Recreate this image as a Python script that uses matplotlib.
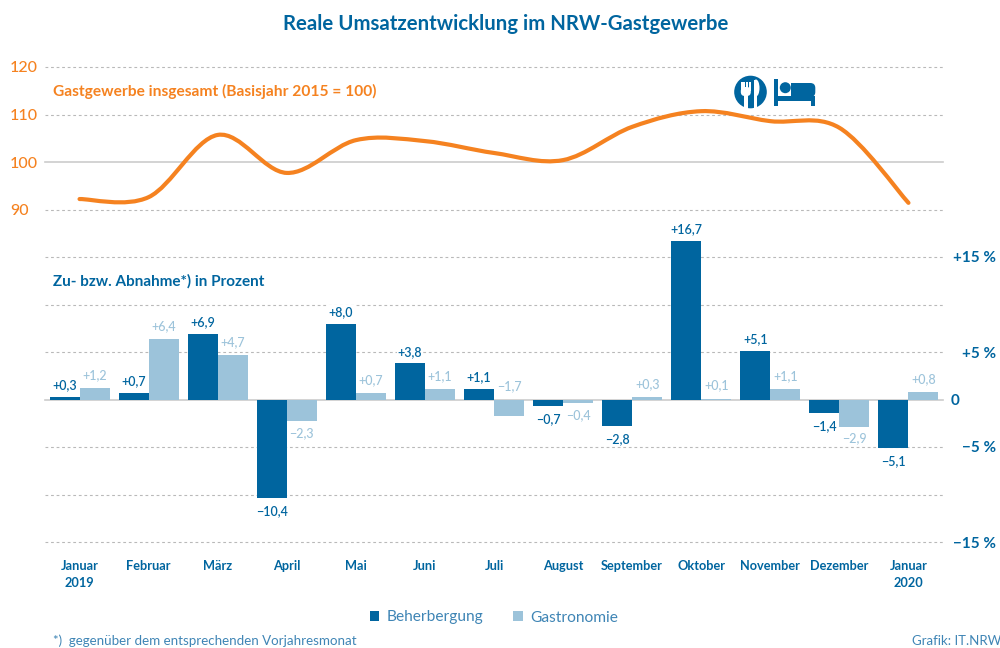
import matplotlib
matplotlib.use('Agg')
import matplotlib.pyplot as plt
import numpy as np
from matplotlib.path import Path
from matplotlib.patches import PathPatch, Circle, Rectangle, FancyBboxPatch, Ellipse

months = ['Januar\n2019', 'Februar', 'März', 'April', 'Mai', 'Juni', 'Juli', 'August',
          'September', 'Oktober', 'November', 'Dezember', 'Januar\n2020']
beherbergung = [0.3, 0.7, 6.9, -10.4, 8.0, 3.8, 1.1, -0.7, -2.8, 16.7, 5.1, -1.4, -5.1]
gastronomie = [1.2, 6.4, 4.7, -2.3, 0.7, 1.1, -1.7, -0.4, 0.3, 0.1, 1.1, -2.9, 0.8]
gesamt = [92.2, 92.6, 105.7, 97.7, 104.6, 104.4, 101.9, 100.4, 107.4, 110.7, 108.6, 107.2, 91.4]

pct_ticks = [15, 5, 0, -5, -15]
pct_labels = ['+15 %', '+5 %', '0', '\u22125 %', '\u221215 %']
index_ticks = [90, 100, 110, 120]

BLUE = '#00659f'
LIGHT = '#9cc3da'
ORANGE = '#f58220'
GRID = '#b9b9b9'
SOFT = '#3f85b5'

plt.rcParams['font.family'] = ['Lato', 'DejaVu Sans']


def fmt(v):
    # deutsche Schreibweise mit echtem Minuszeichen
    s = '%.1f' % abs(v)
    return ('+' if v >= 0 else '\u2212') + s.replace('.', ',')


def smooth_path(x, y, k=1 / 6):
    # Catmull-Rom als Bezier, damit die Linie durch die Monatswerte laeuft
    xs = [x[0]] + list(x) + [x[-1]]
    ys = [y[0]] + list(y) + [y[-1]]
    verts = [(x[0], y[0])]
    codes = [Path.MOVETO]
    for i in range(1, len(xs) - 2):
        verts.append((xs[i] + (xs[i + 1] - xs[i - 1]) * k, ys[i] + (ys[i + 1] - ys[i - 1]) * k))
        verts.append((xs[i + 1] - (xs[i + 2] - xs[i]) * k, ys[i + 1] - (ys[i + 2] - ys[i]) * k))
        verts.append((xs[i + 1], ys[i + 1]))
        codes += [Path.CURVE4] * 3
    return Path(verts, codes)


fig = plt.figure(figsize=(10, 6.48), dpi=100)
ax = fig.add_axes([0.045, 1 - 542 / 648, 0.898, (542 - 67) / 648])
ax.set_xlim(-0.5, 12.5)
ax.set_ylim(-15, 35)
for s in ax.spines.values():
    s.set_visible(False)

# Raster
for v in range(-15, 36, 5):
    if v in (0, 25):
        ax.axhline(v, color='#cccccc', lw=1.2, zorder=1, clip_on=False)
    else:
        ax.axhline(v, color=GRID, lw=0.8, ls=(0, (2.5, 2.5)), zorder=1, clip_on=False)

# Balken
x = np.arange(len(months))
w = 30 / 69.08
b1 = ax.bar(x - w / 2, beherbergung, w, color=BLUE, zorder=2, label='Beherbergung')
b2 = ax.bar(x + w / 2, gastronomie, w, color=LIGHT, zorder=2, label='Gastronomie')

box = dict(facecolor='white', edgecolor='none', pad=0.5)
for i in x:
    v = beherbergung[i]
    ax.annotate(fmt(v), (i - w / 2, v), xytext=(0, 4 if v >= 0 else -5), textcoords='offset points',
                ha='center', va='bottom' if v >= 0 else 'top', fontsize=9, color=BLUE,
                fontweight=600, bbox=box, zorder=1.5)
    v = gastronomie[i]
    # Juli steht im Original ueber der Nulllinie
    up = v >= 0 or i == 6
    base = 0 if i == 6 else v
    ax.annotate(fmt(v), (i + w / 2, base), xytext=(0, 5 if up else -4), textcoords='offset points',
                ha='center', va='bottom' if up else 'top', fontsize=9, color=LIGHT,
                fontweight=500, bbox=box, zorder=1.5)

# Indexlinie, Skala 2 Indexpunkte je Prozentpunkt, 100 liegt auf 25
line_y = [(g - 100) / 2 + 25 for g in gesamt]
ax.add_patch(PathPatch(smooth_path(list(x), line_y), fill=False, edgecolor=ORANGE, lw=3,
                       capstyle='round', zorder=3))

# Achsen
ax.set_xticks(x)
ax.set_xticklabels(months, fontsize=9.2, color=BLUE, fontweight='bold', linespacing=1.5)
ax.tick_params(axis='x', length=0, pad=13)
ax.set_yticks([])

for v, lab in zip(pct_ticks, pct_labels):
    if v == 0:
        ax.text(951, 648 - 401, lab, transform=None, ha='left', va='center', fontsize=11,
                color=BLUE, fontweight='bold')
    else:
        ax.text(996, 648 - (401 - v * 9.5), lab, transform=None, ha='right', va='center', fontsize=11,
                color=BLUE, fontweight='bold')
for g in index_ticks:
    ax.text(10, 648 - (163.5 - (g - 100) * 4.75), str(g), transform=None, ha='left', va='center',
            fontsize=11.5, color=ORANGE, fontweight='medium')

# Texte
fig.text(506 / 1000, 1 - 24.5 / 648, 'Reale Umsatzentwicklung im NRW-Gastgewerbe', ha='center', va='center',
         fontsize=14.7, color=BLUE, fontweight='bold')
fig.text(53 / 1000, 1 - 91 / 648, 'Gastgewerbe insgesamt (Basisjahr 2015 = 100)', va='center',
         fontsize=11.2, color=ORANGE, fontweight='bold')
fig.text(53 / 1000, 1 - 281 / 648, 'Zu- bzw. Abnahme*) in Prozent', va='center',
         fontsize=11, color=BLUE, fontweight='bold')
fig.text(53 / 1000, 1 - 641 / 648, '*)  gegenüber dem entsprechenden Vorjahresmonat', va='center',
         fontsize=9.6, color=SOFT)
fig.text(912 / 1000, 1 - 641 / 648, 'Grafik: IT.NRW', va='center', fontsize=9.5, color=SOFT)

fig.legend(handles=[b1, b2], loc='center', bbox_to_anchor=(494 / 1000, 1 - 617.5 / 648), ncol=2,
           frameon=False, fontsize=11.2, handlelength=0.61, handleheight=0.64, handletextpad=0.48,
           columnspacing=1.92, labelcolor=SOFT)

# Symbole in Pixelkoordinaten
ov = fig.add_axes([0, 0, 1, 1], facecolor='none')
ov.set_xlim(0, 1000)
ov.set_ylim(648, 0)
ov.axis('off')
ov.add_patch(Circle((750.5, 92), 16.3, color=BLUE, lw=0))
# Gabel
ov.add_patch(Rectangle((744, 92), 4, 17, color='white', lw=0))
ov.add_patch(FancyBboxPatch((740.8, 87), 10, 9, boxstyle='round,pad=0,rounding_size=4', color='white', lw=0))
for fx in (740.8, 743.4, 746.1, 749):
    ov.add_patch(Rectangle((fx, 81.5), 1.8, 9, color='white', lw=0))
# Messer
ov.add_patch(Rectangle((754, 80), 3.2, 28.5, color='white', lw=0))
ov.add_patch(Ellipse((756, 88), 7, 17, color='white', lw=0))
ov.add_patch(Rectangle((750.6, 78), 3.4, 22, color=BLUE, lw=0))
# Bett
ov.add_patch(Rectangle((774, 79), 4, 26.5, color=BLUE, lw=0))
ov.add_patch(Rectangle((774, 95.5), 41.3, 5.8, color=BLUE, lw=0))
ov.add_patch(Rectangle((811, 96), 4.3, 9.5, color=BLUE, lw=0))
ov.add_patch(Circle((785.3, 87.7), 5.5, color=BLUE, lw=0))
ov.add_patch(FancyBboxPatch((791, 83), 24.3, 14, boxstyle='round,pad=0,rounding_size=5', color=BLUE, lw=0))
ov.add_patch(Rectangle((791, 83), 8, 13, color=BLUE, lw=0))

fig.savefig('out.png', dpi=100, facecolor='white')
